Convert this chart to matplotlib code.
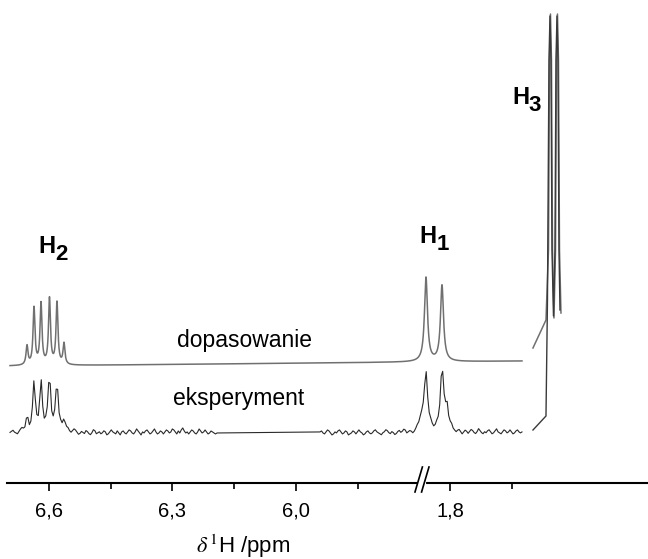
import matplotlib.pyplot as plt
import numpy as np

plt.rcParams.update({
    "font.family": ["Liberation Sans", "DejaVu Sans"],
    "mathtext.fontset": "stix",
})

# --- data (ppm, heights in px above each trace's own baseline) ---
H2_PPM = [6.6534, 6.6364, 6.6194, 6.5988, 6.5806, 6.5636]
H2_FIT = [19, 57, 61, 66, 62, 21]
H2_EXP = [14, 46, 49, 56, 49, 14]

H1_PPM = [5.6843, 5.6454]
H1_FIT = [84, 76]
H1_EXP = [60, 62]
H1_EXP_SHOULDER_PPM = [5.6964, 5.6333]
H1_EXP_SHOULDER = [12, 24]

# H3 region (right-hand segment of the broken axis), traced vertices
H3_PPM_FIT = [1.5984, 1.5668, 1.5607, 1.5583, 1.5559, 1.5535, 1.5510,
              1.5474, 1.5437, 1.5413, 1.5389, 1.5365, 1.5340, 1.5304]
H3_FIT = [13, 41, 111, 301, 347, 301, 111, 43, 111, 301, 347, 301, 111, 48]
H3_PPM_EXP = [1.5984, 1.5668, 1.5632, 1.5595, 1.5571, 1.5547, 1.5522,
              1.5486, 1.5450, 1.5425, 1.5401, 1.5377, 1.5352, 1.5328]
H3_EXP = [3, 17, 133, 373, 417, 373, 183, 117, 183, 373, 417, 373, 183, 123]

FIT_RANGE = (6.6947, 5.4511)
FIT_BASE = (117, 122)
EXP_RANGES = [(6.6947, 6.1919), (5.9417, 5.4511)]
EXP_BASE = 50

NOISE_A = [
    0, 1, 2, 0, -1, -2, 0, 2, 3, 1, -1, 0, 1, -2, -1, 1, 3, 2, 0, -2,
    -1, 1, 0, -1, 2, 3, 1, -1, -2, 0, 2, 1, -1, 0, 2, -1, -3, -1, 1, 2,
    0, -1, 1, 3, 2, 0, -2, -1, 1, 0, -1, 2, 1, -1, -2, 0, 3, 2, -1, 0,
    1, -1, 0, 2, 1, -2, -1, 1, 3, 1, 0, -1, 2, 0, -2, 1, 2, 0, -1, 1,
    3, 2, 0, -1, 1, 4, 2, 0, -2, 1, 0, 2, 3, 1, -1, 0, 2, 4, 1, -1,
    0, 2, 1, -1, 1, 3, 2, 0, 1, 4, 3, 1, -1, 2, 0, 3, 5, 2, 0, 1,
    -1, 1, 3, 2, 0, -1, 1, 4, 2, 0, 1, 3, 1, -1, 0, 2, 1, 0, -1, 0,
]
NOISE_B = [
    1, 2, 0, -1, 1, 3, 2, 0, -2, -1, 1, 0, 2, 3, 1, -1, 0, 2, 1, -2,
    -1, 0, 2, 1, -1, 1, 3, 1, 0, -2, -1, 1, 2, 0, -1, 0, 2, 3, 1, 0,
    -1, -2, 0, 1, 3, 2, 0, -1, 1, 0, -2, -1, 1, 2, 0, 1, 3, 2, -1, 0,
    1, 0, -2, -1, 1, 3, 2, 0, 1, 4, 2, 0, -1, 1, 3, 1, -1, 0, 2, 0,
    -2, 0, 2, 3, 1, -1, 0, 3, 4, 1, 0, -1, 1, 2, 0, -2, 0, 2, 1, -1,
    1, 3, 2, 0, -1, 1, 4, 2, 0, -1, 1, 0, 2, 3, 1, -1, 0, 2, 4, 1,
    0, -1, 1, 3, 2, 0, 1, 3, 1, -1, 0, 2, 3, 1, 0, 1,
]

MAJOR = [6.6, 6.3, 6.0]
MINOR = [6.45, 6.15, 5.85]
RIGHT_MAJOR = [1.8]
RIGHT_MINOR = [1.65]
SHIFT = 3.826  # right segment drawn at ppm + SHIFT


def lorentz(x, centres, heights, hw):
    y = np.zeros_like(x)
    for c, h in zip(centres, heights):
        y += h * hw**2 / (hw**2 + (x - c) ** 2)
    return y


fig = plt.figure(figsize=(6.48, 5.59), dpi=100)
ax = fig.add_axes([7 / 648, 76 / 559, 641 / 648, 483 / 559])

# fitted spectrum
x = np.linspace(*FIT_RANGE, 4000)
y = (np.linspace(*FIT_BASE, x.size) + lorentz(x, H2_PPM, H2_FIT, 0.0028)
     + lorentz(x, H1_PPM, H1_FIT, 0.0044))
ax.plot(x, y, color="#707070", lw=1.1)
ax.plot(np.array(H3_PPM_FIT) + SHIFT, np.array(H3_FIT) + FIT_BASE[1],
        color="#707070", lw=1.1)

# experimental spectrum
xe = np.concatenate([np.linspace(*EXP_RANGES[0], len(NOISE_A)),
                     np.linspace(*EXP_RANGES[1], len(NOISE_B))])
ye = (EXP_BASE + np.array(NOISE_A + NOISE_B)
      + lorentz(xe, H2_PPM, H2_EXP, 0.0038)
      + lorentz(xe, H1_PPM, H1_EXP, 0.005)
      + lorentz(xe, H1_EXP_SHOULDER_PPM, H1_EXP_SHOULDER, 0.004))
ax.plot(xe, ye, color="#2a2a2a", lw=0.8)
ax.plot(np.array(H3_PPM_EXP) + SHIFT, np.array(H3_EXP) + EXP_BASE,
        color="#3a3a3a", lw=1.0)

ax.set_xlim(6.702, 5.145)
ax.set_ylim(0, 483)
for side in ("left", "top", "right"):
    ax.spines[side].set_visible(False)
ax.spines["bottom"].set_linewidth(1.5)
ax.set_yticks([])

ticks = MAJOR + [v + SHIFT for v in RIGHT_MAJOR]
ax.set_xticks(ticks, [f"{v:.1f}".replace(".", ",") for v in MAJOR + RIGHT_MAJOR],
              fontsize=14.5)
ax.set_xticks(MINOR + [v + SHIFT for v in RIGHT_MINOR], minor=True)
ax.tick_params(axis="x", which="major", direction="out", length=6, width=1.2, pad=7)
ax.tick_params(axis="x", which="minor", direction="out", length=4, width=1.2)

# axis break marks
bx = 5.694
ax.plot([bx - 0.004, bx + 0.004], [0, 0], color="white", lw=3,
        clip_on=False, zorder=5)
for dx in (-0.008, 0.008):
    ax.plot([bx + dx + 0.009, bx + dx - 0.009], [-9, 16], color="black",
            lw=1.2, clip_on=False, zorder=6)


def peak_label(xp, yp, sub):
    ax.text(xp, yp, "H", fontsize=17, fontweight="bold", ha="center", va="center")
    ax.annotate(sub, (xp, yp), xytext=(10.5, -6), textcoords="offset points",
                fontsize=16, fontweight="bold", ha="center", va="center")


peak_label(6.6061, 236.5, "2")
peak_label(5.6794, 246.5, "1")
peak_label(5.4548, 385.5, "3")

ax.text(6.1263, 136, "dopasowanie", fontsize=16.5, ha="center", va="baseline")
ax.text(6.1397, 78, "eksperyment", fontsize=16.5, ha="center", va="baseline")

fig.text(243 / 648, 1 - 546 / 559, r"$\delta\,^{1}$H /ppm", fontsize=16,
         ha="center", va="center")

fig.savefig("out.png", dpi=100)
